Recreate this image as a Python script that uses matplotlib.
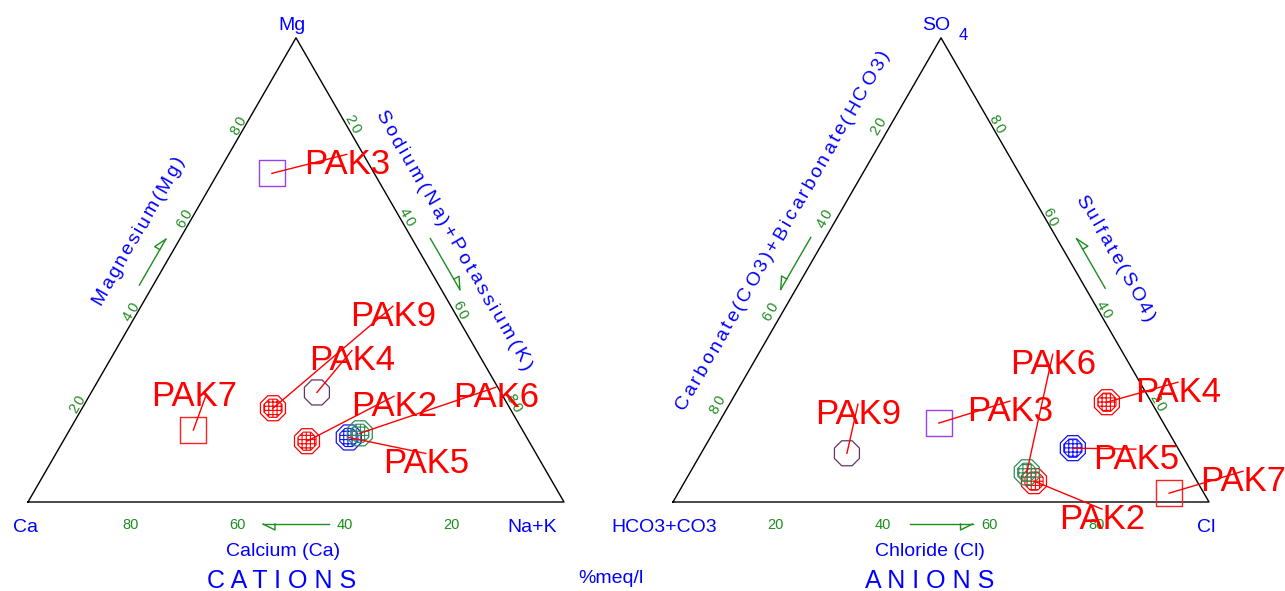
import numpy as np
import matplotlib.pyplot as plt
from matplotlib.font_manager import FontProperties, findfont, get_font

FAMILY = 'Liberation Sans'
BLUE = '#0000FF'
GREEN = '#1E8C1E'
RED = '#FF0000'

# sample compositions, % meq/l
cat_names = ['PAK2', 'PAK3', 'PAK4', 'PAK5', 'PAK6', 'PAK7', 'PAK9']
cat_ca = [41.4, 19.1, 34.3, 33.2, 30.7, 61.4, 44.2]
cat_mg = [13.1, 70.8, 23.6, 13.9, 14.8, 15.5, 20.2]
cat_nak = [45.5, 10.1, 42.1, 52.9, 54.5, 23.1, 35.6]
cat_symbols = ['hatch_red', 'sq_purple', 'oct_purple', 'hatch_blue', 'hatch_green', 'sq_red', 'hatch_red']

an_names = ['PAK2', 'PAK3', 'PAK4', 'PAK5', 'PAK6', 'PAK7', 'PAK9']
an_hco3 = [30.4, 41.9, 8.3, 19.6, 30.8, 6.5, 62.3]
an_so4 = [4.5, 17.0, 21.5, 11.6, 6.4, 1.9, 10.5]
an_cl = [65.1, 41.1, 70.2, 68.8, 62.8, 91.6, 27.2]
an_symbols = ['hatch_red', 'sq_purple', 'hatch_red', 'hatch_blue', 'hatch_green', 'sq_red', 'oct_purple']

ticks = [20, 40, 60, 80]

# label placement (pixels from the point) and leader end relative to the label
cat_label_off = {'PAK2': (87, -38), 'PAK3': (75, -12), 'PAK4': (35, -35), 'PAK5': (77, 23),
                 'PAK6': (136, -39), 'PAK7': (1, -36), 'PAK9': (120, -95)}
an_label_off = {'PAK2': (68, 35), 'PAK3': (71, -15), 'PAK4': (71, -13), 'PAK5': (63, 8),
                'PAK6': (26, -111), 'PAK7': (74, -15), 'PAK9': (11, -42)}
leader_end = {'PAK7': (11, 3)}

SYMBOLS = {
    'hatch_red': ('8', RED, True),
    'hatch_blue': ('8', '#1010FF', True),
    'hatch_green': ('8', '#2E8B57', True),
    'oct_purple': ('8', '#663366', False),
    'sq_purple': ('s', '#9A40F0', False),
    'sq_red': ('s', '#FF2020', False),
}

S = 536.0
H = S * np.sqrt(3) / 2
OL = np.array([28.0, 502.0])
OR = np.array([673.0, 502.0])

fig = plt.figure(figsize=(12.85, 5.91), dpi=100)
ax = fig.add_axes([0, 0, 1, 1])
ax.set_xlim(0, 1285)
ax.set_ylim(591, 0)
ax.axis('off')


def tern(o, right, top):
    return np.array([o[0] + (right + top / 2) * S, o[1] - top * H])


def cap(size):
    return 0.716 * size * 100 / 72


def label(p, s, size=14, color=BLUE, ha='center'):
    ax.text(p[0], p[1] + cap(size) / 2, s, fontsize=size, color=color, family=FAMILY,
            ha=ha, va='baseline')


def spaced_text(p, s, angle, size, gap=0.0, length=None, color=BLUE):
    font = get_font(findfont(FontProperties(family=FAMILY)))
    font.set_size(size, 100)
    adv = [font.load_char(ord(ch)).linearHoriAdvance / 65536 for ch in s]
    if length is not None and len(s) > 1:
        gap = (length - sum(adv)) / (len(s) - 1)
    total = sum(adv) + gap * (len(s) - 1)
    a = np.radians(angle)
    d = np.array([np.cos(a), -np.sin(a)])
    up = np.array([-np.sin(a), -np.cos(a)])
    start = np.asarray(p) - up * cap(size) / 2 - d * total / 2
    pos = 0.0
    for ch, w in zip(s, adv):
        q = start + d * pos
        ax.text(q[0], q[1], ch, rotation=angle, rotation_mode='anchor', ha='left',
                va='baseline', fontsize=size, color=color, family=FAMILY)
        pos += w + gap


def arrow(center, d, length, side):
    d = np.asarray(d, float)
    tip = center + d * length / 2
    tail = center - d * length / 2
    ax.plot([tail[0], tip[0]], [tail[1], tip[1]], color=GREEN, lw=1)
    b = tip - d * 12
    h = b + np.asarray(side) * 6
    ax.plot([tip[0], h[0], b[0]], [tip[1], h[1], b[1]], color=GREEN, lw=1)


def draw_points(o, right, top, names, symbols, offsets):
    pts = [tern(o, r / 100, t / 100) for r, t in zip(right, top)]
    for p, key in zip(pts, symbols):
        marker, color, hatched = SYMBOLS[key]
        if marker == 's':
            ax.scatter(p[0], p[1], s=350, marker='s', facecolor='none', edgecolor=color,
                       linewidths=1, zorder=3)
        else:
            ax.scatter(p[0], p[1], s=380, marker='8', facecolor='none', edgecolor=color,
                       linewidths=0.9, zorder=3)
            if hatched:
                with plt.rc_context({'hatch.color': color, 'hatch.linewidth': 0.8}):
                    ax.scatter(p[0], p[1], s=200, marker='8', facecolor='none',
                               edgecolor=color, hatch='++++', linewidths=0.8, zorder=3)
    for p, name in zip(pts, names):
        dx, dy = offsets[name]
        c = p + np.array([dx, dy])
        ex, ey = leader_end.get(name, (0, -7)) if o is OL else (0, -7)
        ax.plot([p[0], c[0] + ex], [p[1], c[1] + ey], color=RED, lw=1, zorder=4)
        label(c, name, size=25, color=RED)


# edge frames: direction toward apex and outward normal
up_l = np.array([0.5, -np.sqrt(3) / 2])
n_l = np.array([-np.sqrt(3) / 2, -0.5])
up_r = np.array([-0.5, -np.sqrt(3) / 2])
n_r = np.array([np.sqrt(3) / 2, -0.5])

for o in (OL, OR):
    tri = np.array([tern(o, 0, 0), tern(o, 1, 0), tern(o, 0, 1), tern(o, 0, 0)])
    ax.plot(tri[:, 0], tri[:, 1], color='black', lw=1)

# cation ticks
for t in ticks:
    spaced_text(tern(OL, 0, t / 100) + n_l * 7 + up_l * 2, str(t), 60, 10.5, gap=2, color=GREEN)
    spaced_text(tern(OL, t / 100, 1 - t / 100) + n_r * 7 + up_r * 4, str(t), -60, 10.5, gap=2,
                color=GREEN)
    label(tern(OL, t / 100, 0) + np.array([-5, 22]), str(100 - t), size=10.5, color=GREEN)

# anion ticks
for t in ticks:
    spaced_text(tern(OR, 0, t / 100) + n_l * 11.5 - up_l * 1, str(100 - t), 60, 10.5, gap=2,
                color=GREEN)
    spaced_text(tern(OR, 1 - t / 100, t / 100) + n_r * 6 + up_r * 5, str(t), -60, 10.5, gap=2,
                color=GREEN)
    label(tern(OR, t / 100, 0) + np.array([-5, 22]), str(t), size=10.5, color=GREEN)

# edge titles
spaced_text(tern(OL, 0, 0.5) + n_l * 42 + up_l * 22, 'Magnesium(Mg)', 60, 14, length=168)
spaced_text(tern(OL, 0.5, 0.5) + n_r * 37 + up_r * 14, 'Sodium(Na)+Potassium(K)', -60, 14,
            length=297)
spaced_text(tern(OR, 0, 0.5) + n_l * 43 + up_l * 22, 'Carbonate(CO3)+Bicarbonate(HCO3)', 60,
            14, length=412)
spaced_text(tern(OR, 0.5, 0.5) + n_r * 43 - up_r * 10, 'Sulfate(SO4)', -60, 14, length=143)

# direction arrows
arrow(tern(OL, 0, 0.5) + n_l * 12 + up_l * 2, up_l, 53, n_l)
arrow(tern(OL, 0.5, 0.5) + n_r * 16 - up_r * 2.5, -up_r, 59, n_r)
arrow(tern(OL, 0.5, 0) + np.array([0, 22]), (-1, 0), 66, (0, 1))
arrow(tern(OR, 0, 0.5) + n_l * 13, -up_l, 60, n_l)
arrow(tern(OR, 0.5, 0.5) + n_r * 17 - up_r * 2.4, up_r, 57, n_r)
arrow(tern(OR, 0.5, 0) + np.array([0, 22]), (1, 0), 63, (0, 1))

# vertex names
label(tern(OL, 0, 1) + np.array([-3.5, -15]), 'Mg')
label(tern(OL, 0, 0) + np.array([-3, 23.5]), 'Ca')
label(tern(OL, 1, 0) + np.array([-32, 23.5]), 'Na+K')
label(tern(OR, 0, 1) + np.array([-5, -14.5]), 'SO')
label(tern(OR, 0, 1) + np.array([22.5, -4]), '4', size=12)
label(tern(OR, 0, 0) + np.array([-9, 23.5]), 'HCO3+CO3')
label(tern(OR, 1, 0) + np.array([-3, 23.5]), 'Cl')

label((283, 549), 'Calcium (Ca)')
label((929.5, 549), 'Chloride (Cl)')
label((281.5, 579.5), 'C A T I O N S', size=18)
label((930, 579.5), 'A N I O N S', size=18)
label((611, 576), '%meq/l')

draw_points(OL, cat_nak, cat_mg, cat_names, cat_symbols, cat_label_off)
draw_points(OR, an_cl, an_so4, an_names, an_symbols, an_label_off)

fig.savefig('out.png', dpi=100)
